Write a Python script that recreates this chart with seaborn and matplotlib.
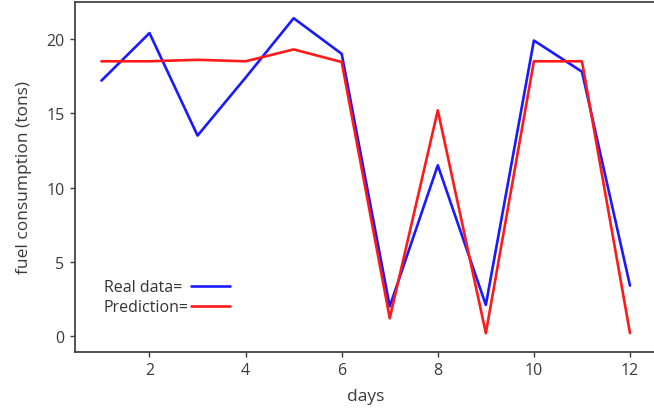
import matplotlib
matplotlib.use("Agg")
import matplotlib.pyplot as plt
import seaborn as sns
import pandas as pd

days = [1, 2, 3, 4, 5, 6, 7, 8, 9, 10, 11, 12]
real_data = [17.2, 20.4, 13.5, 17.4, 21.4, 19.0, 2.0, 11.5, 2.1, 19.9, 17.8, 3.4]
prediction = [18.5, 18.5, 18.6, 18.5, 19.3, 18.45, 1.2, 15.2, 0.2, 18.5, 18.5, 0.2]
x_ticks = [2, 4, 6, 8, 10, 12]
y_ticks = [0, 5, 10, 15, 20]

sns.set_style("ticks")
plt.rcParams["font.family"] = ["Open Sans", "DejaVu Sans"]

fig = plt.figure(figsize=(6.54, 4.10), dpi=100)
ax = fig.add_axes([0.1147, 0.139, 0.889, 0.854])

df = pd.DataFrame({"day": days, "real": real_data, "pred": prediction})
sns.lineplot(data=df, x="day", y="real", color="#1a1aff", lw=1.9,
             label="Real data=", ax=ax)
sns.lineplot(data=df, x="day", y="pred", color="#ff1a1a", lw=1.9,
             label="Prediction=", ax=ax)

ax.set_xlim(0.45, 12.55)
ax.set_ylim(-1.07, 22.5)
ax.set_xticks(x_ticks)
ax.set_yticks(y_ticks)
ax.tick_params(labelsize=11.5, colors="#3a3a3a", length=3.5, width=1, pad=4)
for s in ax.spines.values():
    s.set_color("#444444")
    s.set_linewidth(1.3)

ax.set_xlabel("days", fontsize=12.5, color="#3a3a3a", labelpad=7)
ax.set_ylabel("fuel consumption (tons)", fontsize=12.5, color="#3a3a3a",
              labelpad=10)

# Legend: labels left-aligned, line samples on the right in a common column
pad_pt = 1.5
leg = ax.legend(loc="upper left", bbox_to_anchor=(0.03, 0.24), frameon=False,
                markerfirst=False, fontsize=11.5, handlelength=2.45,
                handletextpad=pad_pt / 11.5, labelspacing=0.25, borderpad=0.2)
for t in leg.get_texts():
    t.set_color("#333333")

fig.canvas.draw()
renderer = fig.canvas.get_renderer()
widths = [t.get_window_extent(renderer).width for t in leg.get_texts()]
wmax = max(widths)
rows = [row for col in leg._legend_handle_box.get_children()
        for row in col.get_children()]
for row, w in zip(rows, widths):
    row.sep = pad_pt + (wmax - w) * 72 / fig.dpi

fig.savefig("out.png", dpi=100)
